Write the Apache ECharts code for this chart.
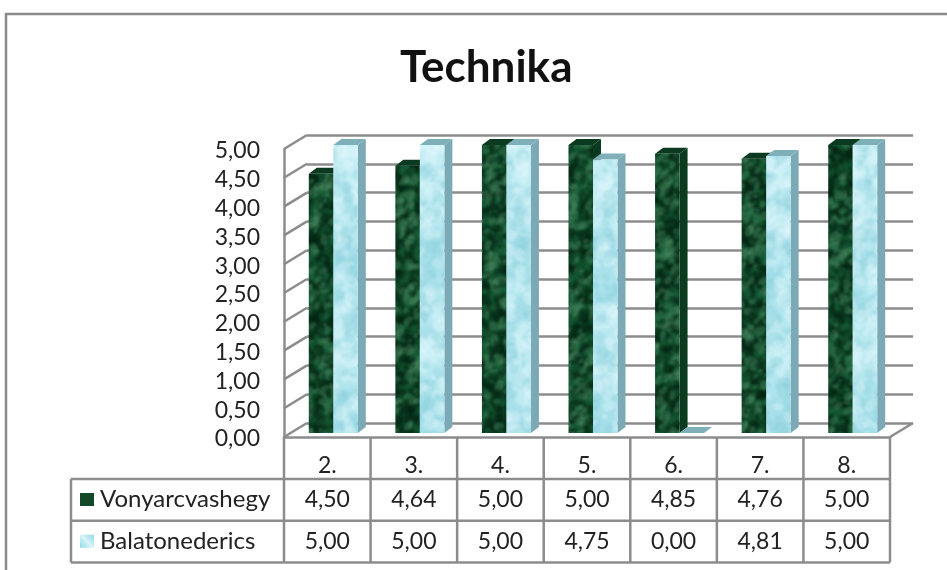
<!DOCTYPE html>
<html><head><meta charset="utf-8">
<style>html,body{margin:0;padding:0;background:#fff}#c{width:947px;height:570px}</style>
<script src="https://cdn.jsdelivr.net/npm/echarts@6/dist/echarts.min.js"></script>
</head><body><div id="c"></div>
<script>
const categories = ['2.','3.','4.','5.','6.','7.','8.'];
const vonyarc = [4.50,4.64,5.00,5.00,4.85,4.76,5.00];
const balaton = [5.00,5.00,5.00,4.75,0.00,4.81,5.00];
const yTicks = [0,0.5,1,1.5,2,2.5,3,3.5,4,4.5,5];
const fmt = v => v.toFixed(2).replace('.',',');
const FONT = 'Lato';
const GRAY = '#8c8c8c';
const TXT = '#222';
const LW = 2.5;

// deterministic marble textures: a hash-placed speckle over the bar area, softened with one blur pass
const hash=(a,b)=>{const s=Math.sin(a*12.9898+b*78.233)*43758.5453;return s-Math.floor(s);};
function texture(kind){
  const W=960,H=570,cv=document.createElement('canvas');cv.width=W;cv.height=H;
  const x=cv.getContext('2d');
  if(kind==='dark'){
    x.fillStyle='#0e4727';x.fillRect(0,0,W,H);
    for(let gy=125;gy<445;gy+=5)for(let gx=280;gx<900;gx+=5){
      const h=hash(gx,gy),h2=hash(gy,gx),r=1.5+h2*3;
      x.fillStyle=h<0.28?'rgba(82,150,108,0.36)':(h<0.5?'rgba(30,105,65,0.35)':'rgba(3,32,16,0.42)');
      x.beginPath();x.ellipse(gx+h2*5,gy+h*5,r,r*1.5,h*6,0,7);x.fill();
    }
  } else {
    const g=x.createLinearGradient(0,140,0,437);
    g.addColorStop(0,'#c8eff5');g.addColorStop(0.28,'#bbe9f1');g.addColorStop(0.34,'#a4dee8');
    g.addColorStop(0.5,'#aee4ed');g.addColorStop(0.72,'#bfebf2');g.addColorStop(0.88,'#aae2eb');g.addColorStop(1,'#a2dde8');
    x.fillStyle=g;x.fillRect(0,0,W,H);
    for(let gy=125;gy<445;gy+=9)for(let gx=280;gx<900;gx+=9){
      const h=hash(gx,gy),h2=hash(gy,gx),r=2+h2*5;
      x.fillStyle=h<0.5?'rgba(235,252,255,0.3)':'rgba(125,200,215,0.24)';
      x.beginPath();x.ellipse(gx+h2*9,gy+h*9,r,r*1.4,h*6,0,7);x.fill();
    }
  }
  const out=document.createElement('canvas');out.width=W;out.height=H;
  const o=out.getContext('2d');o.filter='blur(1px)';o.drawImage(cv,0,0);
  return out;
}
const darkFill={image:texture('dark'),repeat:'repeat'};
const lightFill={image:texture('light'),repeat:'repeat'};

const LEFT=284,RIGHT=890,TOP=149,BOTTOM=437;
const DX=23,DY=-14;            // depth of the box
const BAR_W=24.5,BAR_OX=6,BAR_OY=-4,TOPX=8,TOPY=-6;

function barRender(side,fill,topC,sideC){
  return function(p,api){
    const cat=api.value(0),val=api.value(1);
    const c=api.coord([cat,val]),z=api.coord([cat,0]);
    const cx=c[0]+BAR_OX,xl=side<0?cx-BAR_W:cx,xr=xl+BAR_W,yt=c[1]+BAR_OY,yb=z[1]+BAR_OY;
    const kids=[];
    kids.push({type:'polygon',shape:{points:[[xr,yt],[xr+TOPX,yt+TOPY],[xr+TOPX,yb+TOPY],[xr,yb]]},style:{fill:sideC}});
    kids.push({type:'polygon',shape:{points:[[xl,yt],[xl+TOPX,yt+TOPY],[xr+TOPX,yt+TOPY],[xr,yt]]},style:{fill:topC}});
    if(yb>yt) kids.push({type:'rect',shape:{x:xl,y:yt,width:BAR_W,height:yb-yt},style:{fill:fill}});
    return {type:'group',children:kids};
  };
}
// left-wall and floor diagonals for every tick
function wallRender(p,api){
  const v=api.value(0),c=api.coord([0,v]);
  const x0=c[0]-p.coordSys.width/7/2;
  const ln=[{type:'line',shape:{x1:x0,y1:c[1],x2:x0+DX,y2:c[1]+DY},style:{stroke:GRAY,lineWidth:LW}}];
  if(v===0){
    const xr=x0+p.coordSys.width;
    ln.push({type:'line',shape:{x1:xr,y1:c[1],x2:xr+DX,y2:c[1]+DY},style:{stroke:GRAY,lineWidth:LW}});
  }
  return {type:'group',children:ln};
}
// data-table cells: one value per column and row, placed through the category axis
const ROW_H=41.7,ROW0=BOTTOM+42;
const cellFont='23px '+FONT;
function tableRender(p,api){
  const i=api.value(0),c=api.coord([i,0]),bw=p.coordSys.width/7;
  const kids=[
   {type:'text',style:{text:fmt(vonyarc[i]),x:c[0],y:ROW0+ROW_H/2,align:'center',verticalAlign:'middle',font:cellFont,fill:TXT}},
   {type:'text',style:{text:fmt(balaton[i]),x:c[0],y:ROW0+ROW_H*1.5,align:'center',verticalAlign:'middle',font:cellFont,fill:TXT}},
   {type:'line',shape:{x1:c[0]+bw/2,y1:BOTTOM,x2:c[0]+bw/2,y2:ROW0+2*ROW_H},style:{stroke:GRAY,lineWidth:LW}}
  ];
  if(i===0) kids.push({type:'line',shape:{x1:c[0]-bw/2,y1:BOTTOM,x2:c[0]-bw/2,y2:ROW0+2*ROW_H},style:{stroke:GRAY,lineWidth:LW}});
  return {type:'group',children:kids};
}
const chart=echarts.init(document.getElementById('c'),null,{renderer:'canvas'});
const rule=(x1,y1,x2,y2)=>({type:'line',silent:true,z:10,shape:{x1,y1,x2,y2},style:{stroke:GRAY,lineWidth:LW}});
chart.setOption({
  animation:false,backgroundColor:'#fff',
  title:{text:'Technika',left:395,top:41,textStyle:{fontFamily:FONT,fontWeight:'bold',fontSize:44,color:'#111'}},
  legend:{show:true,orient:'vertical',left:80,top:ROW0+6.5,padding:0,itemWidth:14,itemHeight:13,itemGap:13.7,
    data:[{name:'Vonyarcvashegy',icon:'rect',itemStyle:{color:'#12492a'}},
          {name:'Balatonederics',icon:'rect',itemStyle:{color:new echarts.graphic.LinearGradient(0,1,1,0,[{offset:0,color:'#8fd6e4'},{offset:0.5,color:'#d8f5f9'},{offset:1,color:'#8fd6e4'}])}}],
    textStyle:{fontFamily:FONT,fontSize:24,lineHeight:28,color:TXT,padding:[0,0,0,1]}},
  grid:[
    {left:LEFT,top:TOP,width:RIGHT-LEFT,height:BOTTOM-TOP},
    {left:LEFT+DX,top:TOP+DY,width:RIGHT-LEFT,height:BOTTOM-TOP}
  ],
  xAxis:[
    {gridIndex:0,type:'category',data:categories,axisTick:{show:false},
     axisLine:{show:true,lineStyle:{color:GRAY,width:LW}},
     axisLabel:{fontFamily:FONT,fontSize:23,color:TXT,margin:17}},
    {gridIndex:1,type:'category',data:categories,show:false}
  ],
  yAxis:[
    {gridIndex:0,type:'value',min:0,max:5,interval:0.5,splitLine:{show:false},axisTick:{show:false},
     axisLine:{show:true,lineStyle:{color:GRAY,width:LW}},
     axisLabel:{fontFamily:FONT,fontSize:23,color:TXT,margin:24,verticalAlign:'top',lineHeight:4,formatter:fmt}},
    {gridIndex:1,type:'value',min:0,max:5,interval:0.5,axisLabel:{show:false},axisTick:{show:false},axisLine:{show:false},
     splitLine:{show:true,lineStyle:{color:GRAY,width:LW}}}
  ],
  series:[
    {type:'custom',name:'walls',xAxisIndex:0,yAxisIndex:0,silent:true,z:1,data:yTicks.map(v=>[v]),encode:{x:[],y:0},renderItem:wallRender},
    {type:'custom',name:'Vonyarcvashegy',xAxisIndex:0,yAxisIndex:0,z:3,itemStyle:{color:'#12492a'},
      data:vonyarc.map((v,i)=>[i,v]),encode:{x:0,y:1},renderItem:barRender(-1,darkFill,'#0b3a20','#0a3a1f')},
    {type:'custom',name:'Balatonederics',xAxisIndex:0,yAxisIndex:0,z:4,itemStyle:{color:'#a8e1ec'},
      data:balaton.map((v,i)=>[i,v]),encode:{x:0,y:1},renderItem:barRender(1,lightFill,'#7fb0ba','#7ba9b5')},
    {type:'custom',name:'table',xAxisIndex:0,yAxisIndex:0,silent:true,z:5,clip:false,data:categories.map((c,i)=>[i]),encode:{x:0,y:[]},renderItem:tableRender}
  ],
  graphic:[
    {type:'rect',silent:true,z:0,shape:{x:6,y:14,width:960,height:600},style:{fill:'none',stroke:'#8a8a8a',lineWidth:LW}},
    rule(71,ROW0,RIGHT,ROW0),
    rule(71,ROW0+ROW_H,RIGHT,ROW0+ROW_H),
    rule(71,ROW0+2*ROW_H,RIGHT,ROW0+2*ROW_H),
    rule(71,ROW0,71,ROW0+2*ROW_H)
  ]
});
</script></body></html>
